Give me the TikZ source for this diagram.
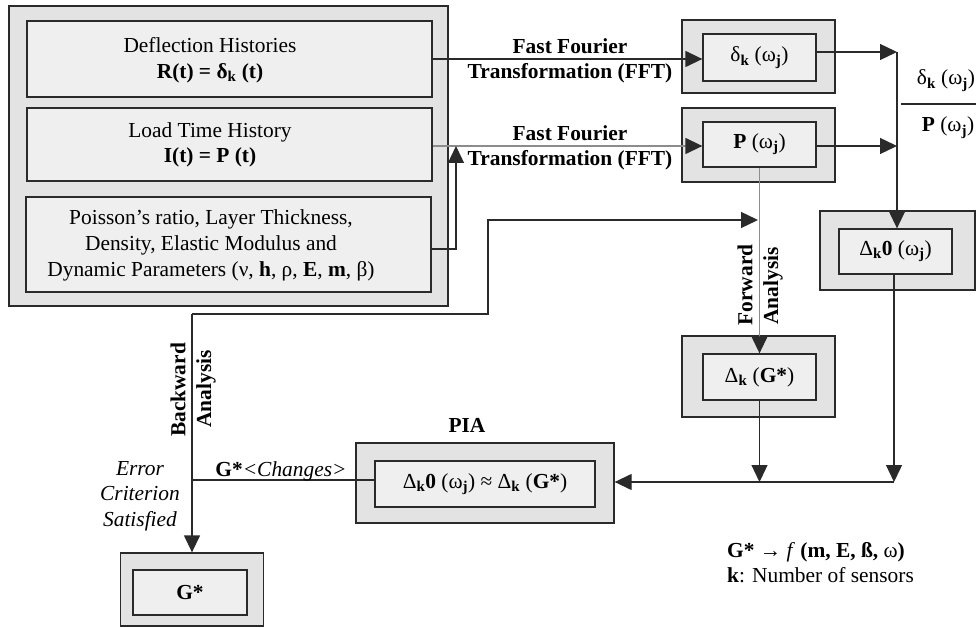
\documentclass[tikz,border=0pt]{standalone}
\usepackage{fontspec}
\setmainfont{Liberation Serif}
\usetikzlibrary{arrows.meta}
\newcommand\sbk{\textsubscript{\textbf{k}}}
\newcommand\sbj{\textsubscript{\textbf{j}}}
\newcommand\fsz{\fontsize{21.4}{25.7}\selectfont}
\definecolor{outerfill}{HTML}{E3E3E3}
\definecolor{innerfill}{HTML}{EFEFEF}
\definecolor{linec}{HTML}{2A2A2A}
\definecolor{grayline}{HTML}{8C8C8C}
\begin{document}
\begin{tikzpicture}[x=1pt,y=-1pt,
  every node/.style={font=\fsz, inner sep=0pt},
  outerbox/.style={draw=linec, fill=outerfill, line width=1.3pt, rectangle},
  innerbox/.style={draw=linec, fill=innerfill, line width=1.3pt, rectangle},
  conn/.style={draw=linec, line width=1.3pt},
  arr/.style={conn, -{Triangle[length=17pt,width=16pt]}},
  garr/.style={draw=grayline, line width=1.3pt, -{Triangle[length=17pt,width=16pt,color=linec]}},
  lbl/.style={align=center},
  itlbl/.style={align=center, font=\fsz\itshape}]

\useasboundingbox (0,0) rectangle (976,628);

% left input block
\node[outerbox, minimum width=439pt, minimum height=300pt] (big) at (228.5,156) {};
\node[innerbox, minimum width=405pt, minimum height=76pt] (b1) at (229.5,59) {};
\node[innerbox, minimum width=405pt, minimum height=73pt] (b2) at (229.5,144.5) {};
\node[innerbox, minimum width=405pt, minimum height=95pt] (b3) at (228.5,244.5) {};
\node[lbl] (t1) at (210,60) {Deflection Histories\\\textbf{R(t) = δ\sbk{} (t)}};
\node[lbl] (t2) at (210,145) {Load Time History\\\textbf{I(t) = P (t)}};
\node[lbl] (t3) at (211,245.5) {Poisson’s ratio, Layer Thickness,\\Density, Elastic Modulus and\\Dynamic Parameters (ν, \textbf{h}, ρ, \textbf{E}, \textbf{m}, β)};

% FFT output boxes
\node[outerbox, minimum width=153pt, minimum height=73pt] (do) at (758.5,56.5) {};
\node[innerbox, minimum width=113pt, minimum height=47pt] (di) at (759.5,57.5) {δ\sbk{} (ω\sbj)};
\node[outerbox, minimum width=153pt, minimum height=74pt] (po) at (758.5,145) {};
\node[innerbox, minimum width=113pt, minimum height=45pt] (pi) at (759.5,144.5) {\textbf{P} (ω\sbj)};

% transfer function box
\node[outerbox, minimum width=155pt, minimum height=79pt] (d0o) at (897.5,250.5) {};
\node[innerbox, minimum width=113pt, minimum height=45pt] (d0i) at (895.5,251.5) {Δ\sbk\textbf{0} (ω\sbj)};

% forward model box
\node[outerbox, minimum width=153pt, minimum height=81pt] (go) at (758.5,376.5) {};
\node[innerbox, minimum width=113pt, minimum height=46pt] (gi) at (759.5,377) {Δ\sbk{} (\textbf{G*})};

% PIA box
\node[outerbox, minimum width=258pt, minimum height=80pt] (pia) at (485,483) {};
\node[innerbox, minimum width=220pt, minimum height=46pt] (pii) at (485,484) {Δ\sbk\textbf{0} (ω\sbj) ≈ Δ\sbk{} (\textbf{G*})};
\node (pialbl) at (467,425) {\textbf{PIA}};

% result box
\node[outerbox, minimum width=143pt, minimum height=73pt] (gso) at (192,589.5) {};
\node[innerbox, minimum width=114pt, minimum height=45pt] (gsi) at (190,592.5) {\textbf{G*}};

% junction points
\coordinate (j0) at (456,249);
\coordinate (j1) at (456,146);
\coordinate (jd) at (897,52);
\coordinate (jp) at (897,146);
\coordinate (jr) at (894,482);
\coordinate (jg) at (759,482);
\coordinate (c1) at (192,314);
\coordinate (c2) at (488,220);
\coordinate (c3) at (758,220);
\coordinate (bl) at (192,480);
\coordinate (fracL) at (901,104);
\coordinate (fracR) at (976,104);

% connectors
\draw[arr] (b1.east) -- (b1.east -| di.west);
\draw[garr] (b2.east |- jp) -- (pi.west |- jp);
\draw[arr] (b3.east |- j0) -- (j0) -- (j1);
\draw[arr] (di.east |- jd) -- (jd);
\draw[arr] (pi.east |- jp) -- (jp);
\draw[arr] (jd) -- (jd |- d0i.north);
\draw[arr] (d0i.south -| jr) -- (jr);
\draw[arr] (gi.south) -- (gi.south |- jg);
\draw[arr] (jr) -- (pia.east |- jr);
\draw[garr] (pi.south) -- (gi.north);
\draw[conn] (pii.west |- bl) -- (bl);
\draw[arr] (c1) -- (c1 |- gso.north);
\draw[arr] (c1) -| (c2) -- (c3);
\draw[conn] (fracL) -- (fracR);

% labels
\node[lbl] (fft1) at (570,61) {\textbf{Fast Fourier}\\\textbf{Transformation (FFT)}};
\node[lbl] (fft2) at (570,148) {\textbf{Fast Fourier}\\\textbf{Transformation (FFT)}};
\node[anchor=base] (fnum) at (946,85) {δ\sbk{} (ω\sbj)};
\node[anchor=base] (fden) at (948,132) {\textbf{P} (ω\sbj)};
\node[rotate=90] (fw) at (745,285) {\textbf{Forward}};
\node[rotate=90] (an1) at (773,286) {\textbf{Analysis}};
\node[rotate=90] (bw) at (178,390) {\textbf{Backward}};
\node[rotate=90] (an2) at (206,389) {\textbf{Analysis}};
\node[anchor=base] (chg) at (281,476) {\textbf{G*}\textit{<Changes>}};
\node[itlbl] (err) at (140,496) {Error\\Criterion\\Satisfied};
\node[align=left, anchor=north west] (leg) at (727,542) {\textbf{G*} → \textit{f} \textbf{(m, E, ß,} ω\textbf{)}\\\textbf{k}: Number of sensors};
\end{tikzpicture}
\end{document}
